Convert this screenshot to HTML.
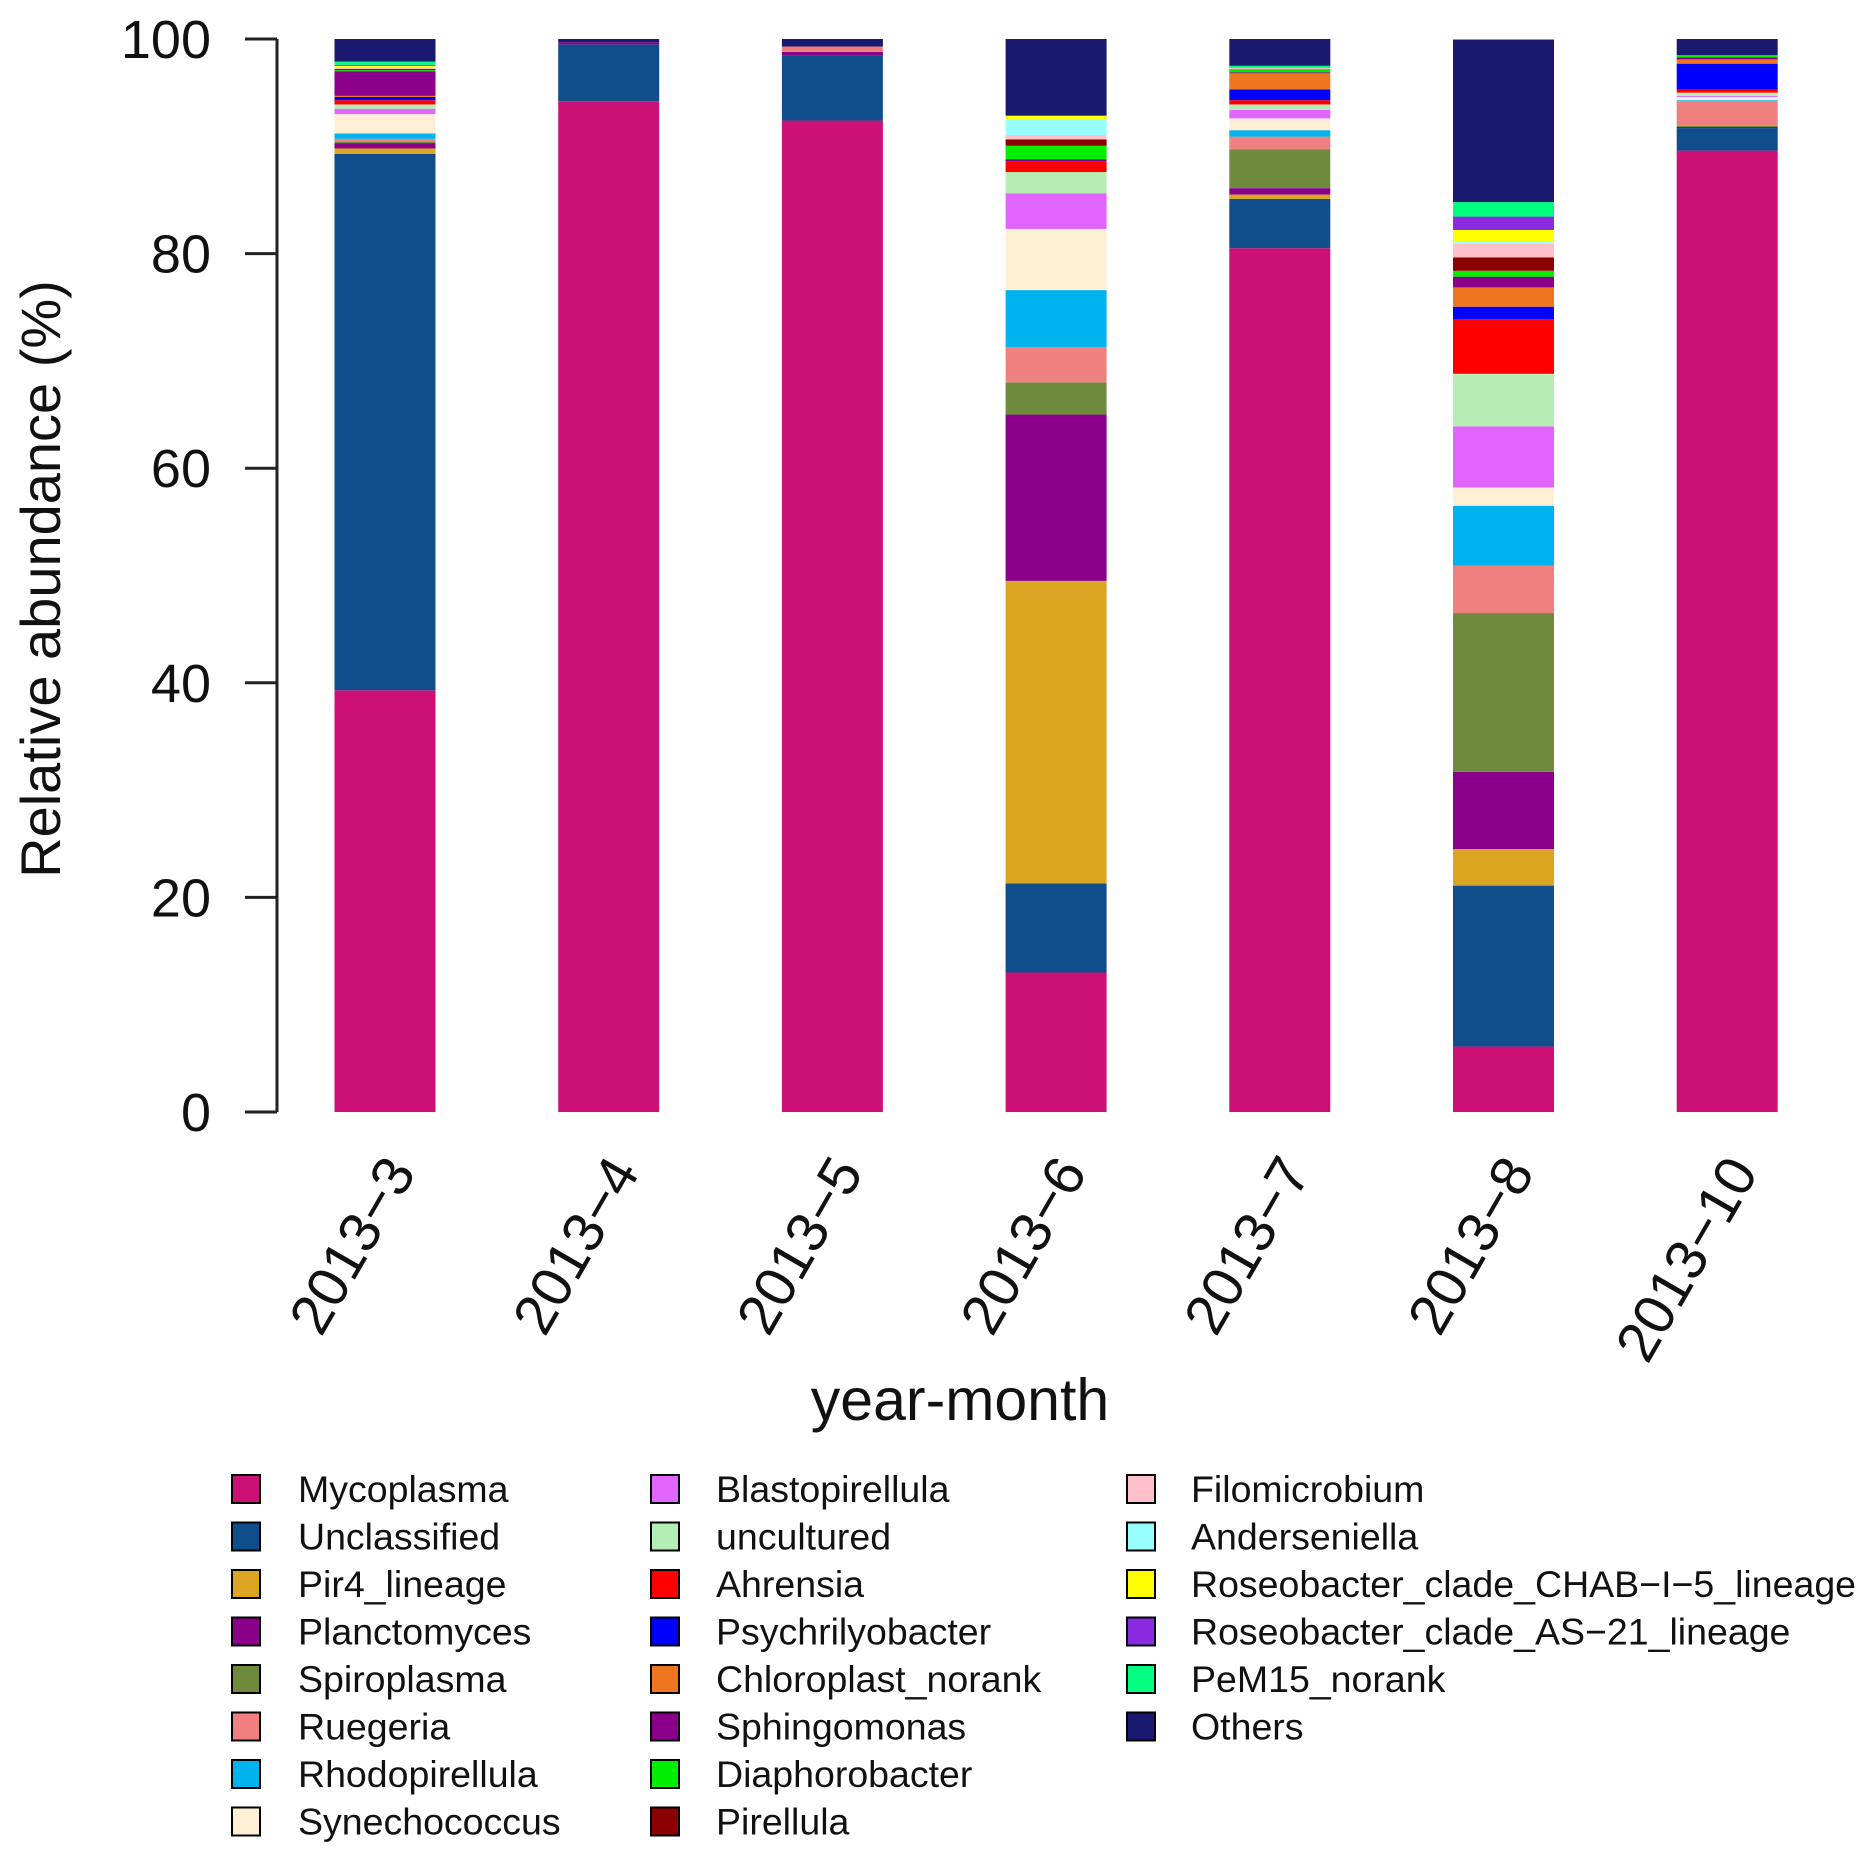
<!DOCTYPE html>
<html><head><meta charset="utf-8"><style>
html,body{margin:0;padding:0;background:#fff;}
svg text{font-family:"Liberation Sans",sans-serif;fill:#111;}
</style></head><body>
<svg id="chart" width="1871" height="1865" viewBox="0 0 1871 1865" xmlns="http://www.w3.org/2000/svg">
<g id="bars"></g>
<g id="yaxis"></g>
<g id="xaxis"></g>
<text x="0" y="0" font-size="56" text-anchor="middle" transform="translate(60,579) rotate(-90)">Relative abundance (%)</text>
<text x="960" y="1420" font-size="59" text-anchor="middle">year-month</text>
<g id="legend"></g>
</svg>
<script>
const categories = ["2013-3","2013-4","2013-5","2013-6","2013-7","2013-8","2013-10"];
const taxa = ["Mycoplasma","Unclassified","Pir4_lineage","Planctomyces","Spiroplasma","Ruegeria","Rhodopirellula","Synechococcus","Blastopirellula","uncultured","Ahrensia","Psychrilyobacter","Chloroplast_norank","Sphingomonas","Diaphorobacter","Pirellula","Filomicrobium","Anderseniella","Roseobacter_clade_CHAB\u2212I\u22125_lineage","Roseobacter_clade_AS\u221221_lineage","PeM15_norank","Others"];
const colors = ["#CD1076","#104E8B","#DAA520","#8B008B","#6E8B3D","#F08080","#00B2EE","#FFEFD5","#E066FF","#B4EEB4","#FF0000","#0000FF","#EE7621","#8B008B","#00EE00","#8B0000","#FFC0CB","#97FFFF","#FFFF00","#8A2BE2","#00FF7F","#191970"];
// values per category, in legend order (bottom to top)
const v2013_3  = [39.3,50.0,0.5,0.5,0.1,0.3,0.5,1.8,0.5,0.4,0.4,0.3,0.1,2.3,0.1,0.1,0.1,0.1,0.1,0.1,0.3,2.1];
const v2013_4  = [94.2,5.3,0,0.2,0,0,0,0,0,0,0,0,0,0,0,0,0,0,0,0,0,0.3];
const v2013_5  = [92.4,6.1,0,0.3,0,0.5,0,0,0,0,0,0,0,0,0,0,0,0,0,0,0,0.7];
const v2013_6  = [13.0,8.3,28.2,15.5,3.0,3.3,5.3,5.7,3.3,2.0,1.0,0,0,0.2,1.25,0.6,0.4,1.5,0.3,0,0,7.15];
const v2013_7  = [80.5,4.6,0.4,0.6,3.6,1.2,0.6,1.1,0.8,0.5,0.4,1.0,1.5,0.1,0.3,0,0.1,0,0,0,0.2,2.5];
const v2013_8  = [6.1,15.0,3.4,7.2,14.8,4.4,5.6,1.7,5.7,4.9,5.1,1.15,1.8,1.0,0.55,1.25,1.25,0.25,1.05,1.25,1.35,15.15];
const v2013_10 = [89.6,2.1,0,0.1,0.1,2.3,0.1,0.3,0.1,0.3,0.3,2.4,0.4,0.2,0.2,0,0,0,0,0,0,1.5];
const series = [v2013_3,v2013_4,v2013_5,v2013_6,v2013_7,v2013_8,v2013_10];
const yTicks = [0,20,40,60,80,100];

const NS="http://www.w3.org/2000/svg";
const y0=1112, y100=39;
function yScale(v){return y0-(y0-y100)*v/100;}
function xCenter(i){return 385+223.7*i;}
const barW=101;
function mk(tag,attrs,parent){const e=document.createElementNS(NS,tag);for(const k in attrs)e.setAttribute(k,attrs[k]);parent.appendChild(e);return e;}

const gb=document.getElementById('bars');
series.forEach((vals,i)=>{
  let cum=0;
  vals.forEach((v,j)=>{
    if(v<=0){return;}
    const top=yScale(cum+v), bot=yScale(cum);
    const r=mk('rect',{x:xCenter(i)-barW/2,y:top,width:barW,height:bot-top,fill:colors[j]},gb);
    
    
    cum+=v;
  });
});

const gy=document.getElementById('yaxis');
const axl=mk('line',{x1:277,x2:277,y1:yScale(0),y2:yScale(100),stroke:'#222','stroke-width':3},gy);


yTicks.forEach(t=>{
  const tl=mk('line',{x1:245,x2:277,y1:yScale(t),y2:yScale(t),stroke:'#222','stroke-width':3},gy);
  
  
  const tx=mk('text',{x:211,y:yScale(t)+19,'font-size':54,'text-anchor':'end'},gy);
  tx.textContent=t;
  
  
});

const gx=document.getElementById('xaxis');
categories.forEach((c,i)=>{
  const tx=mk('text',{x:0,y:0,'font-size':57,'text-anchor':'end',transform:`translate(${xCenter(i)+32},1172) rotate(-60)`},gx);
  tx.textContent=c.replace('-','\u2212');
  
  
});

const gl=document.getElementById('legend');
const colX=[232,651,1127], textX=[298,716,1191];
taxa.forEach((t,j)=>{
  const col=Math.floor(j/8), row=j%8;
  const yy=1489+47.5*row;
  const sq=mk('rect',{x:colX[col],y:yy-14,width:28,height:28,fill:colors[j],stroke:'#000','stroke-width':2},gl);
  
  
  const tx=mk('text',{x:textX[col],y:yy+13,'font-size':37.5},gl);
  tx.textContent=t;
  
  
});
</script>
</body></html>
